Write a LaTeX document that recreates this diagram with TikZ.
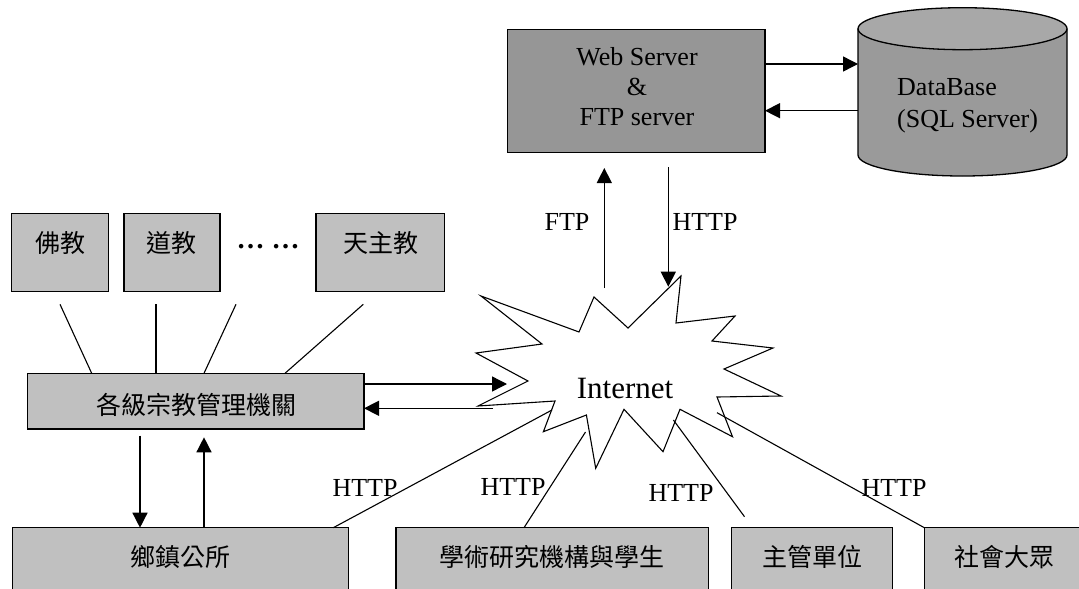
\documentclass[tikz,border=0pt]{standalone}
\usepackage{fontspec}
\setmainfont{Liberation Serif}
\newfontfamily\cjk{Noto Sans CJK TC}
\usetikzlibrary{arrows.meta}
\definecolor{lgray}{HTML}{C0C0C0}
\definecolor{dgray}{HTML}{969696}
\definecolor{dbgray}{HTML}{9A9A9A}
\definecolor{dbtop}{HTML}{A8A8A8}
\begin{document}
\begin{tikzpicture}[x=1pt,y=-1pt,
  box/.style={draw=black, line width=1.3pt, fill=lgray, inner sep=0pt, outer sep=0pt, anchor=north west},
  arr/.style={-{Triangle[length=15pt,width=15pt]}, line width=1.4pt},
  ln/.style={line width=1.1pt},
  lat/.style={font=\fontsize{26}{30}\selectfont, inner sep=0pt},
  big/.style={font=\fontsize{31}{36}\selectfont, inner sep=0pt},
  ch/.style={font=\cjk\fontsize{25}{30}\selectfont, inner sep=0pt}]
\useasboundingbox (0,0) rectangle (1079,589);
\clip (0,0) rectangle (1079,589);

% Web server box
\node[box, fill=dgray, minimum width=257.4, minimum height=123] (web) at (507.6,29.3) {};
\node[lat, align=center] (webtxt) at (637,87) {Web Server\\\&\\FTP server};

% Database cylinder
\fill[dbgray] (858,28.7) -- (858,155) arc[start angle=180, end angle=0, x radius=104.5, y radius=21] -- (1067,28.7) -- cycle;
\draw[line width=1.3pt] (858,28.7) -- (858,155) arc[start angle=180, end angle=0, x radius=104.5, y radius=21] -- (1067,28.7);
\draw[line width=1.3pt, fill=dbtop] (962.5,28.7) ellipse[x radius=104.5, y radius=21];
\node[inner sep=0pt, minimum width=209, minimum height=168] (db) at (962.5,92) {};
\node[font=\fontsize{26}{32}\selectfont, inner sep=0pt, align=left, anchor=west] (dbtxt) at (897,106) {DataBase\\(SQL Server)};
\coordinate (dbA) at (858,64);
\coordinate (dbB) at (858,110.7);

\draw[arr] (web.east |- dbA) -- (dbA);
\draw[arr] (dbB) -- (web.east |- dbB);

% Internet star
\draw[ln, fill=white] (481,296) -- (579,332) -- (594,297) -- (628,328) -- (681,276) -- (676,323)
  -- (735,316) -- (712,341) -- (773,348) -- (724,369) -- (781,396) -- (717,397) -- (732.5,436.7)
  -- (680,409.3) -- (663,451.7) -- (624,409.3) -- (595.7,468.3) -- (586.4,415) -- (543.4,431.7)
  -- (555,401) -- (478,406) -- (528,381) -- (476,353) -- (542,344) -- cycle;
\node[big] (inet) at (625,388) {Internet};

% FTP / HTTP vertical arrows
\coordinate (ftpB) at (604.3,288);
\coordinate (ftpT) at (604.3,168);
\coordinate (httpT) at (668.3,167);
\coordinate (httpB) at (668.3,286.7);
\draw[arr] (ftpB) -- (ftpT);
\draw[arr] (httpT) -- (httpB);
\node[lat] (ftplab) at (567,221.7) {FTP};
\node[lat] (httplab) at (705,221.7) {HTTP};

% religion boxes
\node[box, minimum width=96.6, minimum height=78.4] (fo) at (11.7,213.3) {};
\node[box, minimum width=96, minimum height=78.4] (dao) at (124,213.3) {};
\node[box, minimum width=128.3, minimum height=78.4] (tian) at (316,213.3) {};
\node[ch] (fotxt) at (60.5,243) {佛教};
\node[ch] (daotxt) at (171.5,243) {道教};
\node[ch] (tiantxt) at (380.5,243) {天主教};
\node[font=\bfseries\fontsize{28}{30}\selectfont, inner sep=0pt] (dots) at (268,246.7) {… …};

% management box
\node[box, minimum width=336.3, minimum height=55.7] (gj) at (27.7,373.3) {};
\node[ch] (gjtxt) at (196,405) {各級宗教管理機關};

\coordinate (r1) at (60,304.3);
\coordinate (r2) at (156,304.3);
\coordinate (r3) at (236,304.3);
\coordinate (r4) at (363.3,304.3);
\draw[ln] (r1) -- (gj.north -| 91.7,0);
\draw[ln] (r2) -- (gj.north -| 156,0);
\draw[ln] (r3) -- (gj.north -| 204,0);
\draw[ln] (r4) -- (gj.north -| 285,0);

% management <-> internet
\coordinate (iA) at (507,384);
\coordinate (iB) at (493,408.3);
\draw[arr] (gj.east |- iA) -- (iA);
\draw[arr] (iB) -- (gj.east |- iB);

% bottom boxes
\node[box, minimum width=336, minimum height=80] (xz) at (12.3,527.7) {};
\node[box, minimum width=312.4, minimum height=80] (xs) at (396,527.7) {};
\node[box, minimum width=160.6, minimum height=80] (zg) at (731.8,527.7) {};
\node[box, minimum width=170, minimum height=80] (sh) at (924.3,527.7) {};
\node[ch] (xztxt) at (180.5,556.7) {鄉鎮公所};
\node[ch] (xstxt) at (551.5,556.7) {學術研究機構與學生};
\node[ch] (zgtxt) at (812.5,556.7) {主管單位};
\node[ch] (shtxt) at (1004,556.7) {社會大眾};

% management <-> township
\draw[arr] (gj.south -| 140,0) ++(0,6.7) -- (xz.north -| 140,0);
\draw[arr] (xz.north -| 204,0) -- ++(0,-90.4);

% HTTP lines to internet
\coordinate (s1) at (552,410);
\coordinate (s2) at (585.5,432);
\coordinate (s3) at (673.4,420);
\coordinate (s4) at (717,412.7);
\coordinate (z3) at (744.5,516.7);
\draw[ln] (xz.north -| 333.3,0) -- (s1);
\draw[ln] (xs.north -| 524,0) -- (s2);
\draw[ln] (z3) -- (s3);
\draw[ln] (sh.north west) -- (s4);
\node[lat] (h1) at (365,488) {HTTP};
\node[lat] (h2) at (513,487) {HTTP};
\node[lat] (h3) at (681,493) {HTTP};
\node[lat] (h4) at (894,488) {HTTP};
\end{tikzpicture}
\end{document}
